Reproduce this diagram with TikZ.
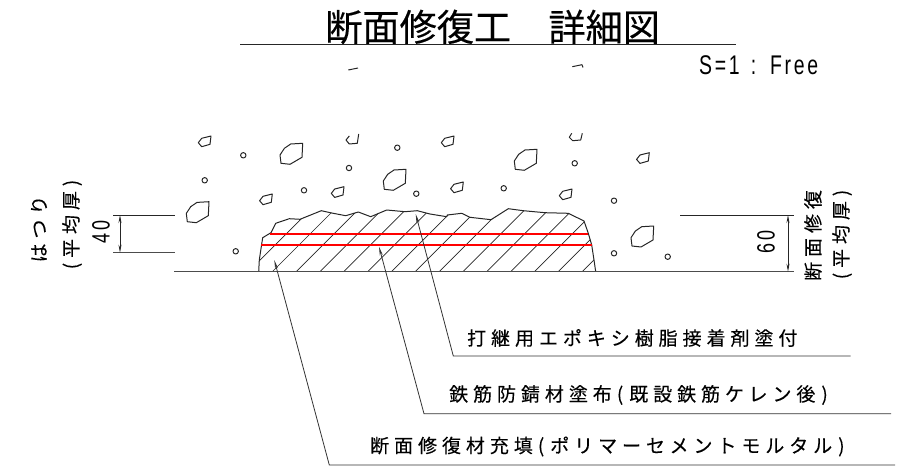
\documentclass[tikz,border=0pt]{standalone}
\usepackage{fontspec}
\setmainfont{Liberation Sans}
\newfontfamily\jpfont[FakeBold=0.3]{Noto Sans CJK JP}
\newfontfamily\jpwide[LetterSpace=26,FakeBold=0.2]{Noto Sans CJK JP}
\newfontfamily\numfont[FakeStretch=0.72,LetterSpace=10]{Liberation Sans}
\usetikzlibrary{arrows.meta,calc}
\tikzset{
  line/.style={line width=1pt,black!85,line join=round},
  baseline/.style={line width=1.2pt,black!70},
  leader/.style={line width=0.8pt,black!80},
  hatchline/.style={line width=0.7pt,black!85},
  dimline/.style={line width=0.8pt,black!85,{Stealth[length=8pt,width=3pt]}-{Stealth[length=8pt,width=3pt]}},
  tipline/.style={leader,{Stealth[length=9pt,width=3pt]}-},
  redline/.style={red,line width=2pt},
  note/.style={font=\fontsize{19}{19}\jpwide,anchor=west,inner sep=0pt},
  sidenote/.style={font=\fontsize{19}{19}\jpwide,rotate=90,inner sep=0pt},
  dimnum/.style={font=\fontsize{25}{25}\numfont,rotate=90,inner sep=0pt},
  bigstone/.pic={\draw[line] (0,0) -- (-12,0.7) -- (-18.3,5) -- (-22.7,11.7) -- (-21.7,20) -- (-12.7,21) -- (-0.7,14) -- cycle;},
  midstone/.pic={\draw[line] (0,0) -- (-9.3,2.3) -- (-12.7,6.7) -- (-9.3,10.7) -- (-1,8.3) -- cycle;}
}
\begin{document}
\begin{tikzpicture}[x=1pt,y=-1pt]
\useasboundingbox (0,0) rectangle (900,468);

% Title
\node[font=\fontsize{37.2}{37.2}\jpfont,anchor=west,inner sep=0pt] (title) at (325,27) {断面修復工　詳細図};
\coordinate (titleL) at (240,45);
\coordinate (titleR) at (736,45);
\draw[line] (titleL) -- (titleR);
\node[font=\fontsize{27}{27}\numfont,anchor=west,inner sep=0pt] (scale) at (699,65) {S=1\kern3pt{} :\kern3pt{} Free};
\draw[line] (348.3,70) -- (358,68);
\draw[line] (572.3,66.7) -- (582,64.7) -- (583,67.5);

% Aggregate
\foreach \px/\py in {302.7/143.3,406/169.3,209/201.7,537/149.3,653.7/226}
  \pic at (\px,\py) {bigstone};
\foreach \px/\py in {211/136,454/136,272.3/194,344/186.7,463.3/182,572/189,649.3/152.7}
  \pic at (\px,\py) {midstone};
\foreach \px/\py in {243.3/155.3,204.7/180.3,304/190.3,349/168,397.3/147.7,416.3/193.7,235.7/251.3,574.7/163.3,503.7/188.3,614/200.7,614/253.3,667.7/256.7}
  \draw[line] (\px,\py) circle[radius=2.7];
\draw[line] (349.3,136) -- (346,140) -- (349.3,144) -- (357.3,143.3) -- (358.7,134);
\draw[line] (571.7,133.3) -- (569.3,137.3) -- (572.7,140.7) -- (580.7,140) -- (582.3,133.3);

% Repair section
\def\repairshape{(258.7,271.7) -- (259.3,260) -- (261.7,244) -- (262.7,237.7) -- (271,232.7) -- (275.7,223.3) -- (289.3,218.7) -- (300,219.3) -- (321.3,210.7) -- (331.7,213) -- (345.7,215.7) -- (358.3,212) -- (370.7,216.7) -- (386.7,210) -- (405,211.7) -- (417.3,210.7) -- (430,214) -- (446.7,216.7) -- (447.3,215) -- (461.7,213.3) -- (470,217.3) -- (491,219.7) -- (508.3,208.7) -- (523.3,210.7) -- (545,212.7) -- (568.3,213.3) -- (584,221) -- (588.3,233.3) -- (591.7,245) -- (594,260) -- (595.7,271.7)}
\begin{scope}
  \clip \repairshape -- cycle;
  \foreach \i in {-1,...,14}
    \draw[hatchline] ({272.3+23.83*\i},271.7) -- ({272.3+23.83*\i+90},181.7);
\end{scope}
\draw[line] \repairshape;
\coordinate (redAL) at (270,233.5);
\coordinate (redAR) at (588.3,233.5);
\coordinate (redBL) at (261,244.7);
\coordinate (redBR) at (591.7,244.7);
\draw[redline] (redAL) -- (redAR);
\draw[redline] (redBL) -- (redBR);
\coordinate (baseL) at (174,271.7);
\coordinate (baseR) at (794,271.7);
\draw[baseline] (baseL) -- (baseR);

% Dimension left
\coordinate (leftTopA) at (113,215);
\coordinate (leftTopB) at (175,215);
\coordinate (leftBotA) at (113,252.7);
\coordinate (leftBotB) at (175,252.7);
\draw[line] (leftTopA) -- (leftTopB);
\draw[baseline] (leftBotA) -- (leftBotB);
\coordinate (dimLT) at (120,215);
\coordinate (dimLB) at (120,252.7);
\draw[dimline] (dimLT) -- (dimLB);
\node[dimnum] (dimforty) at (101,232) {40};
\node[sidenote] (hatsuri) at (39,229) {はつり};
\node[sidenote] (avgL) at (72,224.5) {(平均厚)};

% Dimension right
\coordinate (rightTopA) at (680,215);
\coordinate (rightTopB) at (794,215);
\draw[line] (rightTopA) -- (rightTopB);
\coordinate (dimRT) at (788,215);
\coordinate (dimRB) at (788,271.7);
\draw[dimline] (dimRT) -- (dimRB);
\node[dimnum] (dimsixty) at (766,242) {60};
\node[sidenote] (repair) at (813,235.5) {断面修復};
\node[sidenote] (avgR) at (842,234.5) {(平均厚)};

% Leaders
\coordinate (tipA) at (415.7,214);
\coordinate (bendA) at (453.3,356);
\coordinate (endA) at (850.7,356);
\coordinate (tipB) at (379,246.7);
\coordinate (bendB) at (424,413.7);
\coordinate (endB) at (891,413.7);
\coordinate (tipC) at (274.3,260);
\coordinate (bendC) at (329.3,465);
\coordinate (endC) at (895,465);
\draw[tipline] (tipA) -- (bendA) -- (endA);
\draw[tipline] (tipB) -- (bendB) -- (endB);
\draw[tipline] (tipC) -- (bendC) -- (endC);
\node[note] (noteA) at (467,338) {打継用エポキシ樹脂接着剤塗付};
\node[note] (noteB) at (449,395) {鉄筋防錆材塗布\kern5pt(\kern6pt既設鉄筋ケレン後\kern6pt)};
\node[note] (noteC) at (370,446.5) {断面修復材充填\kern5pt(\kern6ptポリマーセメントモルタル\kern6pt)};
\end{tikzpicture}
\end{document}
